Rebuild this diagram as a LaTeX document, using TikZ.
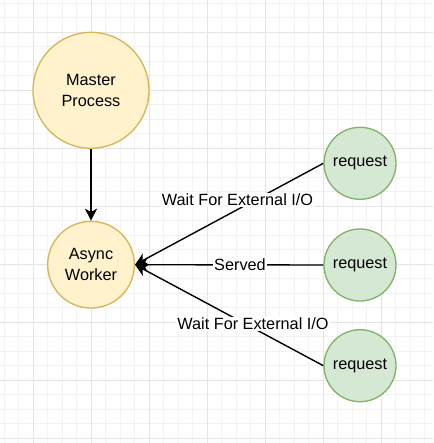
\documentclass[tikz,border=0pt]{standalone}
\usepackage{fontspec}
\setmainfont{Liberation Sans}
\usetikzlibrary{arrows.meta}
\definecolor{procfill}{HTML}{FFF2CC}
\definecolor{procline}{HTML}{D6B656}
\definecolor{reqfill}{HTML}{D5E8D4}
\definecolor{reqline}{HTML}{82B366}
\definecolor{minorgrid}{HTML}{F3F3F3}
\definecolor{majorgrid}{HTML}{E4E4E4}
\tikzset{
  proc/.style={circle, draw=procline, fill=procfill, line width=1pt, align=center, inner sep=0pt},
  req/.style={circle, draw=reqline, fill=reqfill, line width=1pt, minimum size=54pt, inner sep=0pt},
  lbl/.style={fill=white, inner sep=1pt},
  link/.style={line width=1.05pt, -{Stealth[length=9pt, width=9pt, inset=2.5pt]}}
}
\begin{document}
\begin{tikzpicture}[x=0.75pt, y=-0.75pt, font=\fontsize{12.2}{15.8}\selectfont]
  \clip (0,0) rectangle (433,443);
  \fill[white] (0,0) rectangle (433,443);
  % grid
  \foreach \i in {-2,...,28} {
    \draw[minorgrid, line width=0.6pt] (33.3+14.5*\i, 0) -- (33.3+14.5*\i, 443);
    \draw[minorgrid, line width=0.6pt] (0, 32.3+14.5*\i) -- (433, 32.3+14.5*\i);
  }
  \foreach \i in {0,...,7} {
    \draw[majorgrid, line width=0.6pt] (33.3+58*\i, 0) -- (33.3+58*\i, 443);
    \draw[majorgrid, line width=0.6pt] (0, 32.3+58*\i) -- (433, 32.3+58*\i);
  }

  \node[proc, minimum size=87pt] (master) at (91,90.3) {Master\\Process};
  \node[proc, minimum size=65pt] (worker) at (91,264.7) {Async\\Worker};
  \node[req] (reqa) at (360,163.3) {request};
  \node[req] (reqb) at (360,265) {request};
  \node[req] (reqc) at (360,365.7) {request};

  \draw[link] (master.south) -- (worker.north);
  \draw[link] (reqa.west) -- (worker.east);
  \draw[link] (reqb.west) -- (worker.east);
  \draw[link] (reqc.west) -- (worker.east);

  \node[lbl] (waita) at (237.5,200) {Wait For External I/O};
  \node[lbl] (served) at (240,265) {Served};
  \node[lbl] (waitc) at (253,324) {Wait For External I/O};
\end{tikzpicture}
\end{document}
